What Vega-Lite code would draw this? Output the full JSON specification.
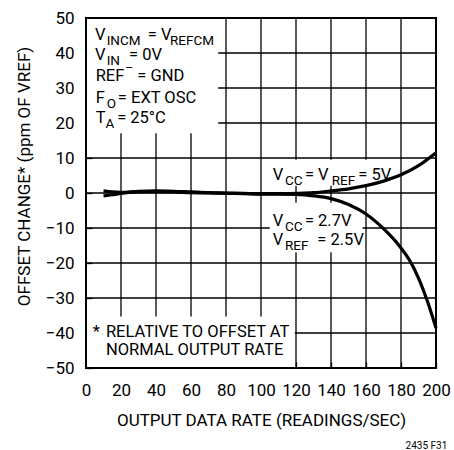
{
  "$schema": "https://vega.github.io/schema/vega-lite/v6.json",
  "width": 350,
  "height": 350,
  "autosize": {"type": "none"},
  "padding": {"left": 86, "top": 18, "right": 18, "bottom": 82},
  "background": "white",
  "config": {
    "font": "Roboto",
    "view": {"stroke": "#000", "strokeWidth": 2},
    "axis": {
      "domain": false,
      "grid": false,
      "ticks": true,
      "tickColor": "#000",
      "tickWidth": 1.3,
      "tickSize": -6,
      "labelFont": "Roboto",
      "labelFontSize": 17,
      "labelColor": "#000",
      "labelOverlap": false,
      "labelFlush": false,
      "labelBound": false,
      "titleFont": "Roboto",
      "titleFontSize": 17,
      "titleFontWeight": "normal",
      "titleColor": "#000",
      "zindex": 1
    },
    "axisX": {"labelPadding": 20, "titleY": 44},
    "axisY": {"labelPadding": 18, "titleX": -53, "titleY": 158},
    "title": {"font": "Roboto", "fontSize": 10, "fontWeight": "normal", "color": "#000"}
  },
  "title": {"text": "2435 F31", "orient": "bottom", "anchor": "end", "offset": 13, "dx": -3},
  "datasets": {
    "gx": [{"v": 20}, {"v": 40}, {"v": 60}, {"v": 80}, {"v": 100}, {"v": 120}, {"v": 140}, {"v": 160}, {"v": 180}],
    "gy": [{"v": -40}, {"v": -30}, {"v": -20}, {"v": -10}, {"v": 0}, {"v": 10}, {"v": 20}, {"v": 30}, {"v": 40}],
    "boxes": [
      {"x1": 0.6, "x2": 75.5, "y1": 17.1, "y2": 49.7},
      {"x1": 0.6, "x2": 119.3, "y1": -49.7, "y2": -35.3},
      {"x1": 104, "x2": 176.5, "y1": 2.1, "y2": 9.5},
      {"x1": 105, "x2": 158, "y1": -16.9, "y2": -2.8}
    ],
    "curves": [
      {"s": "5V", "rate": 10, "off": 0.6}, {"s": "5V", "rate": 15, "off": 0.3}, {"s": "5V", "rate": 20, "off": 0.2},
      {"s": "5V", "rate": 30, "off": 0.5}, {"s": "5V", "rate": 40, "off": 0.6}, {"s": "5V", "rate": 50, "off": 0.5},
      {"s": "5V", "rate": 60, "off": 0.3}, {"s": "5V", "rate": 70, "off": 0.1}, {"s": "5V", "rate": 80, "off": 0.0},
      {"s": "5V", "rate": 90, "off": -0.1}, {"s": "5V", "rate": 100, "off": -0.2}, {"s": "5V", "rate": 110, "off": -0.2},
      {"s": "5V", "rate": 120, "off": -0.1}, {"s": "5V", "rate": 130, "off": 0.1}, {"s": "5V", "rate": 140, "off": 0.6},
      {"s": "5V", "rate": 150, "off": 1.2}, {"s": "5V", "rate": 160, "off": 2.1}, {"s": "5V", "rate": 170, "off": 3.4},
      {"s": "5V", "rate": 180, "off": 5.2}, {"s": "5V", "rate": 190, "off": 7.8}, {"s": "5V", "rate": 200, "off": 11.5},
      {"s": "2.7V", "rate": 10, "off": -0.8}, {"s": "2.7V", "rate": 15, "off": -0.5}, {"s": "2.7V", "rate": 20, "off": -0.1},
      {"s": "2.7V", "rate": 30, "off": 0.3}, {"s": "2.7V", "rate": 40, "off": 0.4}, {"s": "2.7V", "rate": 50, "off": 0.3},
      {"s": "2.7V", "rate": 60, "off": 0.1}, {"s": "2.7V", "rate": 70, "off": 0.0}, {"s": "2.7V", "rate": 80, "off": -0.1},
      {"s": "2.7V", "rate": 90, "off": -0.2}, {"s": "2.7V", "rate": 100, "off": -0.3}, {"s": "2.7V", "rate": 110, "off": -0.3},
      {"s": "2.7V", "rate": 120, "off": -0.4}, {"s": "2.7V", "rate": 130, "off": -0.8}, {"s": "2.7V", "rate": 140, "off": -1.6},
      {"s": "2.7V", "rate": 150, "off": -3.3}, {"s": "2.7V", "rate": 160, "off": -6.0}, {"s": "2.7V", "rate": 170, "off": -10.2},
      {"s": "2.7V", "rate": 180, "off": -15.7}, {"s": "2.7V", "rate": 185, "off": -19.3}, {"s": "2.7V", "rate": 190, "off": -24.3},
      {"s": "2.7V", "rate": 195, "off": -30.8}, {"s": "2.7V", "rate": 200, "off": -38.6}
    ],
    "labels": [
      {"x": 5.1, "y": 43.6, "t": "V", "k": "m"}, {"x": 11.8, "y": 43.6, "t": "INCM", "k": "s"},
      {"x": 35.3, "y": 43.6, "t": "= V", "k": "m"}, {"x": 48.0, "y": 43.6, "t": "REFCM", "k": "s"},
      {"x": 5.1, "y": 38.1, "t": "V", "k": "m"}, {"x": 11.8, "y": 38.1, "t": "IN", "k": "s"},
      {"x": 24.6, "y": 38.1, "t": "= 0V", "k": "m"},
      {"x": 5.5, "y": 31.9, "t": "REF", "k": "m"}, {"x": 22.4, "y": 31.9, "t": "–", "k": "p"},
      {"x": 29.3, "y": 31.9, "t": "= GND", "k": "m"},
      {"x": 5.5, "y": 25.7, "t": "F", "k": "m"}, {"x": 11.8, "y": 25.7, "t": "O", "k": "s"},
      {"x": 18.2, "y": 25.7, "t": "= EXT OSC", "k": "m"},
      {"x": 5.5, "y": 20.0, "t": "T", "k": "m"}, {"x": 11.2, "y": 20.0, "t": "A", "k": "s"},
      {"x": 17.8, "y": 20.0, "t": "= 25°C", "k": "m"},
      {"x": 106.7, "y": 3.8, "t": "V", "k": "m"}, {"x": 113.7, "y": 3.8, "t": "CC", "k": "s"},
      {"x": 125.1, "y": 3.8, "t": "= V", "k": "m"}, {"x": 140.4, "y": 3.8, "t": "REF", "k": "s"},
      {"x": 155.6, "y": 3.8, "t": "= 5V", "k": "m"},
      {"x": 106.7, "y": -9.3, "t": "V", "k": "m"}, {"x": 113.7, "y": -9.3, "t": "CC", "k": "s"},
      {"x": 125.1, "y": -9.3, "t": "= 2.7V", "k": "m"},
      {"x": 106.7, "y": -14.8, "t": "V", "k": "m"}, {"x": 113.7, "y": -14.8, "t": "REF", "k": "s"},
      {"x": 132.2, "y": -14.8, "t": "= 2.5V", "k": "m"},
      {"x": 3.8, "y": -41.1, "t": "*", "k": "m"}, {"x": 11.4, "y": -41.1, "t": "RELATIVE TO OFFSET AT", "k": "m"},
      {"x": 11.4, "y": -46.2, "t": "NORMAL OUTPUT RATE", "k": "m"}
    ]
  },
  "layer": [
    {
      "data": {"name": "gx"},
      "mark": {"type": "rule", "color": "#000", "strokeWidth": 1.3},
      "encoding": {
        "x": {"field": "v", "type": "quantitative", "scale": {"domain": [0, 200]},
          "axis": {"title": "OUTPUT DATA RATE (READINGS/SEC)", "values": [0, 20, 40, 60, 80, 100, 120, 140, 160, 180, 200], "labelOverlap": false}}
      }
    },
    {
      "data": {"name": "gy"},
      "mark": {"type": "rule", "color": "#000", "strokeWidth": 1.3},
      "encoding": {
        "y": {"field": "v", "type": "quantitative", "scale": {"domain": [-50, 50]},
          "axis": {"title": "OFFSET CHANGE* (ppm OF VREF)", "values": [-50, -40, -30, -20, -10, 0, 10, 20, 30, 40, 50], "labelOverlap": false}}
      }
    },
    {
      "data": {"name": "boxes"},
      "mark": {"type": "rect", "fill": "white"},
      "encoding": {
        "x": {"field": "x1", "type": "quantitative", "scale": {"domain": [0, 200]},
          "axis": {"title": "OUTPUT DATA RATE (READINGS/SEC)", "values": [0, 20, 40, 60, 80, 100, 120, 140, 160, 180, 200], "labelOverlap": false}},
        "x2": {"field": "x2"},
        "y": {"field": "y1", "type": "quantitative", "scale": {"domain": [-50, 50]},
          "axis": {"title": "OFFSET CHANGE* (ppm OF VREF)", "values": [-50, -40, -30, -20, -10, 0, 10, 20, 30, 40, 50], "labelOverlap": false}},
        "y2": {"field": "y2"}
      }
    },
    {
      "data": {"name": "curves"},
      "mark": {"type": "line", "color": "#000", "strokeWidth": 3.2, "interpolate": "monotone"},
      "encoding": {
        "x": {"field": "rate", "type": "quantitative", "scale": {"domain": [0, 200]},
          "axis": {"title": "OUTPUT DATA RATE (READINGS/SEC)", "values": [0, 20, 40, 60, 80, 100, 120, 140, 160, 180, 200], "labelOverlap": false}},
        "y": {"field": "off", "type": "quantitative", "scale": {"domain": [-50, 50]},
          "axis": {"title": "OFFSET CHANGE* (ppm OF VREF)", "values": [-50, -40, -30, -20, -10, 0, 10, 20, 30, 40, 50], "labelOverlap": false}},
        "detail": {"field": "s"}
      }
    },
    {
      "data": {"name": "labels"},
      "transform": [{"filter": "datum.k === 'm'"}],
      "mark": {"type": "text", "align": "left", "baseline": "alphabetic", "fontSize": 16.5, "color": "#000"},
      "encoding": {
        "x": {"field": "x", "type": "quantitative", "scale": {"domain": [0, 200]},
          "axis": {"title": "OUTPUT DATA RATE (READINGS/SEC)", "values": [0, 20, 40, 60, 80, 100, 120, 140, 160, 180, 200], "labelOverlap": false}},
        "y": {"field": "y", "type": "quantitative", "scale": {"domain": [-50, 50]},
          "axis": {"title": "OFFSET CHANGE* (ppm OF VREF)", "values": [-50, -40, -30, -20, -10, 0, 10, 20, 30, 40, 50], "labelOverlap": false}},
        "text": {"field": "t"}
      }
    },
    {
      "data": {"name": "labels"},
      "transform": [{"filter": "datum.k === 's'"}],
      "mark": {"type": "text", "align": "left", "baseline": "alphabetic", "fontSize": 13.5, "dy": 5, "color": "#000"},
      "encoding": {
        "x": {"field": "x", "type": "quantitative", "scale": {"domain": [0, 200]},
          "axis": {"title": "OUTPUT DATA RATE (READINGS/SEC)", "values": [0, 20, 40, 60, 80, 100, 120, 140, 160, 180, 200], "labelOverlap": false}},
        "y": {"field": "y", "type": "quantitative", "scale": {"domain": [-50, 50]},
          "axis": {"title": "OFFSET CHANGE* (ppm OF VREF)", "values": [-50, -40, -30, -20, -10, 0, 10, 20, 30, 40, 50], "labelOverlap": false}},
        "text": {"field": "t"}
      }
    },
    {
      "data": {"name": "labels"},
      "transform": [{"filter": "datum.k === 'p'"}],
      "mark": {"type": "text", "align": "left", "baseline": "alphabetic", "fontSize": 12, "dy": -9, "color": "#000"},
      "encoding": {
        "x": {"field": "x", "type": "quantitative", "scale": {"domain": [0, 200]},
          "axis": {"title": "OUTPUT DATA RATE (READINGS/SEC)", "values": [0, 20, 40, 60, 80, 100, 120, 140, 160, 180, 200], "labelOverlap": false}},
        "y": {"field": "y", "type": "quantitative", "scale": {"domain": [-50, 50]},
          "axis": {"title": "OFFSET CHANGE* (ppm OF VREF)", "values": [-50, -40, -30, -20, -10, 0, 10, 20, 30, 40, 50], "labelOverlap": false}},
        "text": {"field": "t"}
      }
    }
  ]
}
